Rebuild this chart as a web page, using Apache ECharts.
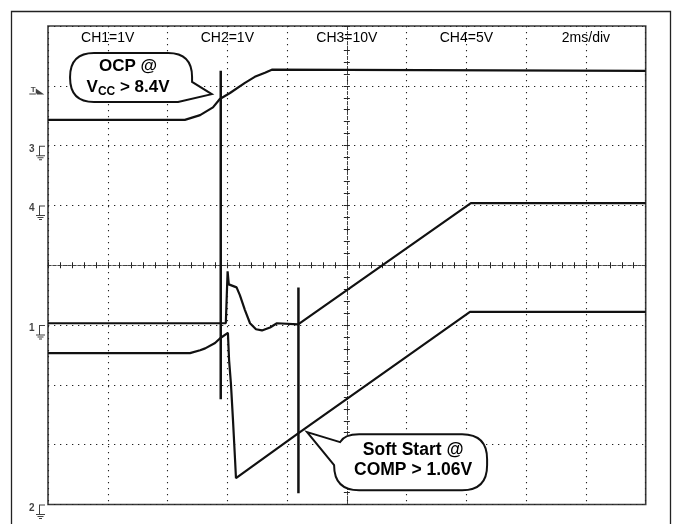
<!DOCTYPE html>
<html>
<head>
<meta charset="utf-8">
<script src="https://cdn.jsdelivr.net/npm/echarts@6/dist/echarts.min.js"></script>
<style>
  html, body { margin: 0; padding: 0; background: #fff; }
  #scope { width: 673px; height: 524px; }
</style>
</head>
<body>
<div id="scope"></div>
<script>
// time in ms relative to screen centre (2 ms/div), level in divisions from centre
var headerPos = [-8, -4, 0, 4, 8];
var headerText = ["CH1=1V", "CH2=1V", "CH3=10V", "CH4=5V", "2ms/div"];

// CH3 - Vcc
var ch3Time = [-10, -5.42, -4.91, -4.48, -4.25, -3.91, -3.41, -3.08, -2.74, -2.51, 10];
var ch3Level = [2.43, 2.43, 2.51, 2.64, 2.78, 2.88, 3.05, 3.15, 3.22, 3.27, 3.25];

// CH4 - output
var ch4Time = [-10, -4.05, -3.99, -3.95, -3.69, -3.58, -3.41, -3.24, -3.04, -2.84, -2.57, -2.34, -1.63, 4.15, 10];
var ch4Level = [-0.97, -0.97, -0.10, -0.32, -0.37, -0.50, -0.75, -0.97, -1.07, -1.09, -1.04, -0.97, -0.99, 1.04, 1.04];

// CH1 - COMP
var ch1Time = [-10, -5.25, -4.91, -4.74, -4.41, -4.24, -3.98, -3.94, -3.88, -3.81, -3.74, -3.71, -1.63, 4.12, 10];
var ch1Level = [-1.47, -1.47, -1.42, -1.39, -1.30, -1.22, -1.13, -1.59, -1.97, -2.59, -3.26, -3.56, -2.81, -0.78, -0.78];

// cursor lines
var cursorTime = [-4.22, -1.62];
var cursorTop = [3.25, -0.37];
var cursorBottom = [-2.24, -3.81];

// channel ground markers + trigger level
var gndLabel = ["3", "4", "1", "2"];
var gndLevel = [2, 1, -1, -4];
var trigLabel = "T";
var trigLevel = 2.88;

// callouts: tip of each bubble's pointer
var calloutTime = [-4.52, -1.33];
var calloutLevel = [2.86, -2.79];
var calloutText = [
  "{b|OCP @}\n{b|V}{s|CC}{b| > 8.4V}",
  "{c|Soft Start @}\n{c|COMP > 1.06V}"
];

var font = "Liberation Sans, Arial, Helvetica, sans-serif";

function pairs(xs, ys) {
  return xs.map(function (x, i) { return [x, ys[i]]; });
}

function trace(name, xs, ys) {
  return {
    name: name, type: "line", xAxisIndex: 0, yAxisIndex: 0,
    data: pairs(xs, ys), showSymbol: false, symbol: "none", animation: false,
    lineStyle: { color: "#111", width: 2.2 }, z: 5
  };
}

var gndSymbol = "path://M30,0H90V10H40V95H90V105H0V95H30Z M15,115H75V125H15Z M30,135H60V145H30Z";
var trigSymbol = "path://M0,65H75V75H0Z M65,15L65,75L150,75Z";

var markerData = gndLevel.map(function (v, i) {
  return {
    value: [-10, v],
    symbol: gndSymbol, symbolSize: [9, 14.5], symbolOffset: [-7.5, 7.25],
    label: { show: true, formatter: gndLabel[i], position: "left", distance: 1.5, offset: [0, -4] }
  };
});
markerData.push({
  value: [-10, trigLevel],
  symbol: trigSymbol, symbolSize: [15, 6], symbolOffset: [-11.2, -1.5],
  label: { show: true, formatter: trigLabel, position: [1.5, -3], fontSize: 8 }
});

function ocpPath(t) {
  var L = t[0] - 141.7, R = t[0] - 19.7, T = t[1] - 41.3, B = t[1] + 7.7, r = 24;
  return "M" + (L + r) + "," + T + " H" + (R - r) +
    " Q" + R + "," + T + " " + R + "," + (T + r) +
    " V" + (t[1] - 12.3) + " L" + t[0] + "," + t[1] +
    " L" + (t[0] - 33.7) + "," + B + " H" + (L + r) +
    " Q" + L + "," + B + " " + L + "," + (B - r) +
    " V" + (T + r) + " Q" + L + "," + T + " " + (L + r) + "," + T + " Z";
}

function softPath(t) {
  var L = t[0] + 27, R = t[0] + 180, T = t[1] + 2, B = t[1] + 58, r = 25;
  return "M" + (L + r) + "," + T + " H" + (R - r) +
    " Q" + R + "," + T + " " + R + "," + (T + r) +
    " V" + (B - r) + " Q" + R + "," + B + " " + (R - r) + "," + B +
    " H" + (L + r) + " Q" + L + "," + B + " " + L + "," + (B - r) +
    " L" + t[0] + "," + t[1] +
    " L" + (L + 6) + "," + (T + 8) + " Q" + (L + 10) + "," + T + " " + (L + r) + "," + T + " Z";
}

var bubblePath = [ocpPath, softPath];
var textOffset = [[-83.7, -17.8], [106, 28.5]];

var richStyle = {
  b: { fontSize: 17, fontWeight: "bold", fontFamily: font, lineHeight: 21, color: "#111" },
  s: { fontSize: 12, fontWeight: "bold", fontFamily: font, verticalAlign: "bottom", color: "#111" },
  c: { fontSize: 17.5, fontWeight: "bold", fontFamily: font, lineHeight: 20, color: "#111" }
};

var series = [
  trace("CH3", ch3Time, ch3Level),
  trace("CH4", ch4Time, ch4Level),
  trace("CH1", ch1Time, ch1Level)
];
cursorTime.forEach(function (t, i) {
  series.push({
    type: "line", xAxisIndex: 0, yAxisIndex: 0, showSymbol: false, symbol: "none",
    data: [[t, cursorTop[i]], [t, cursorBottom[i]]], animation: false,
    lineStyle: { color: "#111", width: 2.5 }, z: 6
  });
});
series.push({
  type: "scatter", xAxisIndex: 0, yAxisIndex: 0, clip: false, animation: false,
  data: markerData,
  itemStyle: { color: "#111" },
  label: { color: "#111", fontSize: 10, fontWeight: "bold", fontFamily: font },
  z: 7
});
series.push({
  type: "custom", xAxisIndex: 0, yAxisIndex: 0, clip: false, animation: false, z: 10,
  data: pairs(calloutTime, calloutLevel),
  renderItem: function (params, api) {
    var i = params.dataIndex;
    var p = api.coord([api.value(0), api.value(1)]);
    return {
      type: "group",
      children: [
        {
          type: "path",
          shape: { pathData: bubblePath[i](p) },
          style: { fill: "#fff", stroke: "#111", lineWidth: 2 }
        },
        {
          type: "text",
          x: p[0] + textOffset[i][0], y: p[1] + textOffset[i][1],
          style: {
            text: calloutText[i], align: "center", verticalAlign: "middle",
            rich: richStyle
          }
        }
      ]
    };
  }
});

function centreAxis(dim, inside, withSplit) {
  var isX = dim === "x";
  return {
    type: "value",
    min: isX ? -10 : -4,
    max: isX ? 10 : 4,
    interval: isX ? 2 : 1,
    position: isX ? "bottom" : "left",
    axisLine: {
      show: true, onZero: true, onZeroAxisIndex: 0,
      lineStyle: { color: "#444", width: 1, type: [3, 2] }
    },
    axisTick: { show: true, inside: inside, length: 3, lineStyle: { color: "#222", width: 1 } },
    minorTick: { show: true, splitNumber: 5, length: 3, lineStyle: { color: "#222", width: 1 } },
    axisLabel: { show: false },
    splitLine: { show: withSplit, lineStyle: { color: "#222", width: 1.1, type: [1.3, 4.7] } }
  };
}

var chart = echarts.init(document.getElementById("scope"));

var option = {
  backgroundColor: "#fff",
  animation: false,
  grid: {
    left: 48, top: 26, right: 27.3, bottom: 19.5,
    show: true, borderColor: "#3a3a3a", borderWidth: 1.6, backgroundColor: "#fff",
    outerBoundsMode: "none"
  },
  graphic: [
    {
      type: "rect", z: 1, silent: true,
      shape: { x: 11.5, y: 11.5, width: 659, height: 600 },
      style: { fill: "transparent", stroke: "#222", lineWidth: 1.3 }
    }
  ],
  xAxis: [
    centreAxis("x", false, true),
    centreAxis("x", true, false),
    {
      type: "value", min: -10, max: 10, interval: 2, position: "top",
      axisLine: { show: false, onZero: false },
      axisTick: { show: false },
      splitLine: { show: false },
      axisLabel: {
        inside: true, margin: 5, fontSize: 14, color: "#000", fontFamily: font,
        formatter: function (v) {
          var i = headerPos.indexOf(v);
          return i < 0 ? "" : headerText[i];
        }
      }
    }
  ],
  yAxis: [
    centreAxis("y", false, true),
    centreAxis("y", true, false)
  ],
  series: series
};
chart.setOption(option);
</script>
</body>
</html>
